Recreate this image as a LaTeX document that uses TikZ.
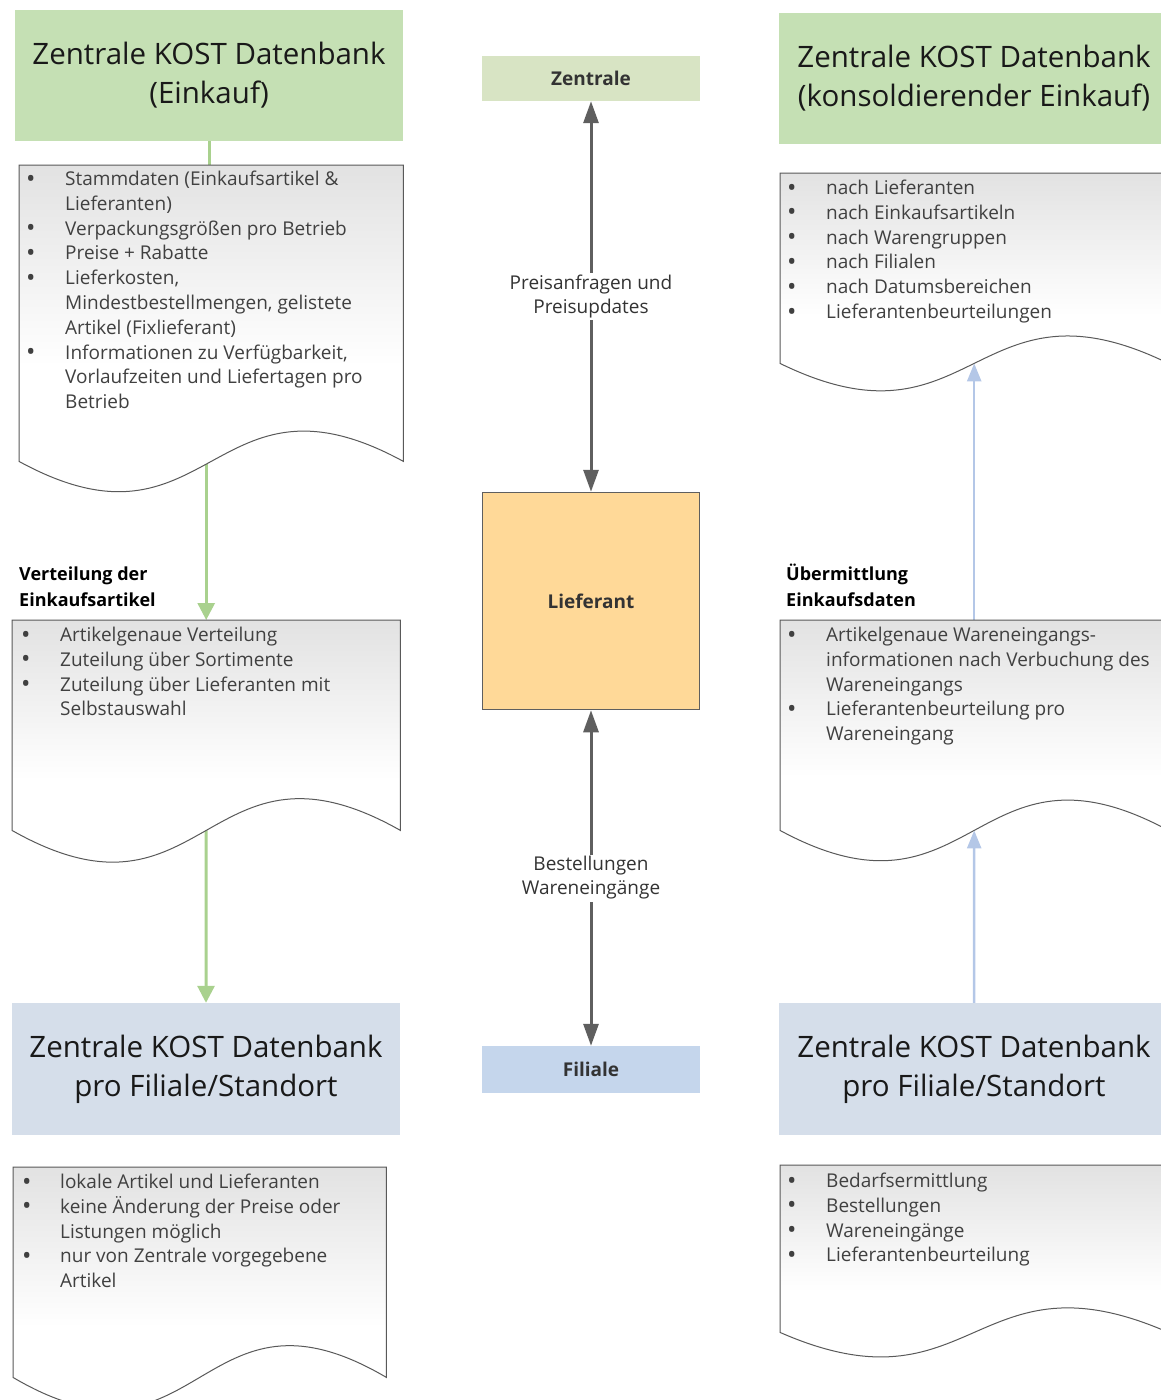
\documentclass[tikz,border=0pt]{standalone}
\usepackage{fontspec}
\setmainfont{Open Sans}
\usetikzlibrary{calc,arrows.meta,positioning}
\definecolor{headgreen}{RGB}{197,224,180}
\definecolor{headblue}{RGB}{213,222,234}
\definecolor{zentralegreen}{RGB}{216,228,196}
\definecolor{filialeblue}{RGB}{197,214,236}
\definecolor{lieferantorange}{RGB}{255,217,152}
\definecolor{arrowgray}{RGB}{95,95,95}
\definecolor{linegreen}{RGB}{169,209,142}
\definecolor{lineblue}{RGB}{180,199,231}
\definecolor{docgray}{RGB}{226,226,226}
\tikzset{
	head/.style={inner sep=0pt, align=center, text=black!90, font=\fontsize{29.5}{39}\selectfont},
	midbox/.style={inner sep=0pt, minimum width=218pt, text=black!80, font=\bfseries\fontsize{19}{24}\selectfont},
	docbody/.style={inner sep=0pt, anchor=north west},
	itemtext/.style={inner sep=0pt, anchor=north west, text=black!75, font=\fontsize{19}{24.8}\selectfont},
	steplabel/.style={inner sep=0pt, anchor=south west, align=left, font=\bfseries\fontsize{18}{26}\selectfont},
	arrowlabel/.style={fill=white, inner sep=2pt, align=center, text=black!80, font=\fontsize{19}{24}\selectfont},
	grayarrow/.style={line width=3pt, draw=arrowgray, {Triangle[length=22pt,width=15pt]}-{Triangle[length=22pt,width=15pt]}},
	greenline/.style={line width=3pt, draw=linegreen},
	greenarrow/.style={greenline, -{Triangle[length=17pt,width=17pt]}},
	bluearrow/.style={line width=2.5pt, draw=lineblue, -{Triangle[length=18pt,width=14pt]}}
}
\def\docshape(#1)(#2){\draw[draw=black!65, line width=1pt, top color=docgray, bottom color=white, middle color=white] (#1.north west) -- (#1.north east) -- (#1.south east) .. controls ($(#1.south)+(0,-#2)$) and ($(#1.south)+(0,#2)$) .. (#1.south west) -- cycle;}
\def\bul{\raisebox{-1.5pt}{\fontsize{25}{24}\selectfont\textbullet}}

\begin{document}
\begin{tikzpicture}[x=1pt, y=-1pt]
			%%%%% START %%%%%
			\clip (0,0) rectangle (1161,1400);
			
			% left column
			\node[head, fill=headgreen, minimum width=388pt, minimum height=131pt] (h1) at (209,75.5) {Zentrale KOST Datenbank\\(Einkauf)};
			\node[docbody, minimum width=384pt, minimum height=296pt] (d1) at (19,165) {};
			\node[docbody, minimum width=388pt, minimum height=210pt] (d2) at (12,620) {};
			\node[head, fill=headblue, minimum width=388pt, minimum height=132pt] (h3) at (206,1069) {Zentrale KOST Datenbank\\pro Filiale/Standort};
			\node[docbody, minimum width=373pt, minimum height=210pt] (d3) at (13,1167) {};
			
			\draw[greenline] (h1.south) -- (h1.south |- d1.north);
			\draw[greenarrow] (d2.north |- d1.south) -- (d2.north);
			\draw[greenarrow] (d2.south) -- (h3.north);
			
			\docshape(d1)(105)
			\docshape(d2)(110)
			\docshape(d3)(110)
			
			\node[itemtext] (t1) at ($(d1.north west)+(7,3)$) {\begin{tabular}{@{}p{39pt}@{}l@{}}
				\bul & Stammdaten (Einkaufsartikel \&\\
				& Lieferanten)\\
				\bul & Verpackungsgrößen pro Betrieb\\
				\bul & Preise + Rabatte\\
				\bul & Lieferkosten,\\
				& Mindestbestellmengen, gelistete\\
				& Artikel (Fixlieferant)\\
				\bul & Informationen zu Verfügbarkeit,\\
				& Vorlaufzeiten und Liefertagen pro\\
				& Betrieb
			\end{tabular}};
			\node[steplabel] (l2) at ($(d2.north west)+(7,-13)$) {Verteilung der\\Einkaufsartikel};
			\node[itemtext] (t2) at ($(d2.north west)+(9,4)$) {\begin{tabular}{@{}p{39pt}@{}l@{}}
				\bul & Artikelgenaue Verteilung\\
				\bul & Zuteilung über Sortimente\\
				\bul & Zuteilung über Lieferanten mit\\
				& Selbstauswahl
			\end{tabular}};
			\node[itemtext] (t3) at ($(d3.north west)+(9,4)$) {\begin{tabular}{@{}p{38pt}@{}l@{}}
				\bul & lokale Artikel und Lieferanten\\
				\bul & keine Änderung der Preise oder\\
				& Listungen möglich\\
				\bul & nur von Zentrale vorgegebene\\
				& Artikel
			\end{tabular}};
			
			% center column
			\node[midbox, fill=zentralegreen, minimum height=45pt] (zentrale) at (591,78.5) {Zentrale};
			\node[midbox, fill=lieferantorange, draw=arrowgray, line width=1.5pt, minimum width=217pt, minimum height=217pt] (lieferant) at (591,601) {Lieferant};
			\node[midbox, fill=filialeblue, minimum height=47pt] (filiale) at (591,1069.5) {Filiale};
			
			\draw[grayarrow] (lieferant) -- (zentrale) node[midway, arrowlabel] {Preisanfragen und\\Preisupdates};
			\draw[grayarrow] (lieferant) -- (filiale) node[midway, arrowlabel] {Bestellungen\\Wareneingänge};
			
			% right column
			\node[head, fill=headgreen, minimum width=390pt, minimum height=131pt] (h2) at (974,78.5) {Zentrale KOST Datenbank\\(konsoldierender Einkauf)};
			\node[docbody, minimum width=388pt, minimum height=190pt] (d4) at (780,173) {};
			\node[docbody, minimum width=388pt, minimum height=210pt] (d5) at (780,620) {};
			\node[head, fill=headblue, minimum width=390pt, minimum height=132pt] (h4) at (974,1069) {Zentrale KOST Datenbank\\pro Filiale/Standort};
			\node[docbody, minimum width=388pt, minimum height=167pt] (d6) at (780,1165) {};
			
			\draw[bluearrow] (d5.north) -- (d4.south);
			\draw[bluearrow] (h4.north) -- (d5.south);
			
			\docshape(d4)(95)
			\docshape(d5)(105)
			\docshape(d6)(85)
			
			\node[itemtext] (t4) at ($(d4.north west)+(7,4)$) {\begin{tabular}{@{}p{39pt}@{}l@{}}
				\bul & nach Lieferanten\\
				\bul & nach Einkaufsartikeln\\
				\bul & nach Warengruppen\\
				\bul & nach Filialen\\
				\bul & nach Datumsbereichen\\
				\bul & Lieferantenbeurteilungen
			\end{tabular}};
			\node[steplabel] (l5) at ($(d5.north west)+(6,-13)$) {Übermittlung\\Einkaufsdaten};
			\node[itemtext] (t5) at ($(d5.north west)+(7,4)$) {\begin{tabular}{@{}p{39pt}@{}l@{}}
				\bul & Artikelgenaue Wareneingangs-\\
				& informationen nach Verbuchung des\\
				& Wareneingangs\\
				\bul & Lieferantenbeurteilung pro\\
				& Wareneingang
			\end{tabular}};
			\node[itemtext] (t6) at ($(d6.north west)+(7,5)$) {\begin{tabular}{@{}p{39pt}@{}l@{}}
				\bul & Bedarfsermittlung\\
				\bul & Bestellungen\\
				\bul & Wareneingänge\\
				\bul & Lieferantenbeurteilung
			\end{tabular}};
			
			%%%%% END %%%%%
\end{tikzpicture}
\end{document}
